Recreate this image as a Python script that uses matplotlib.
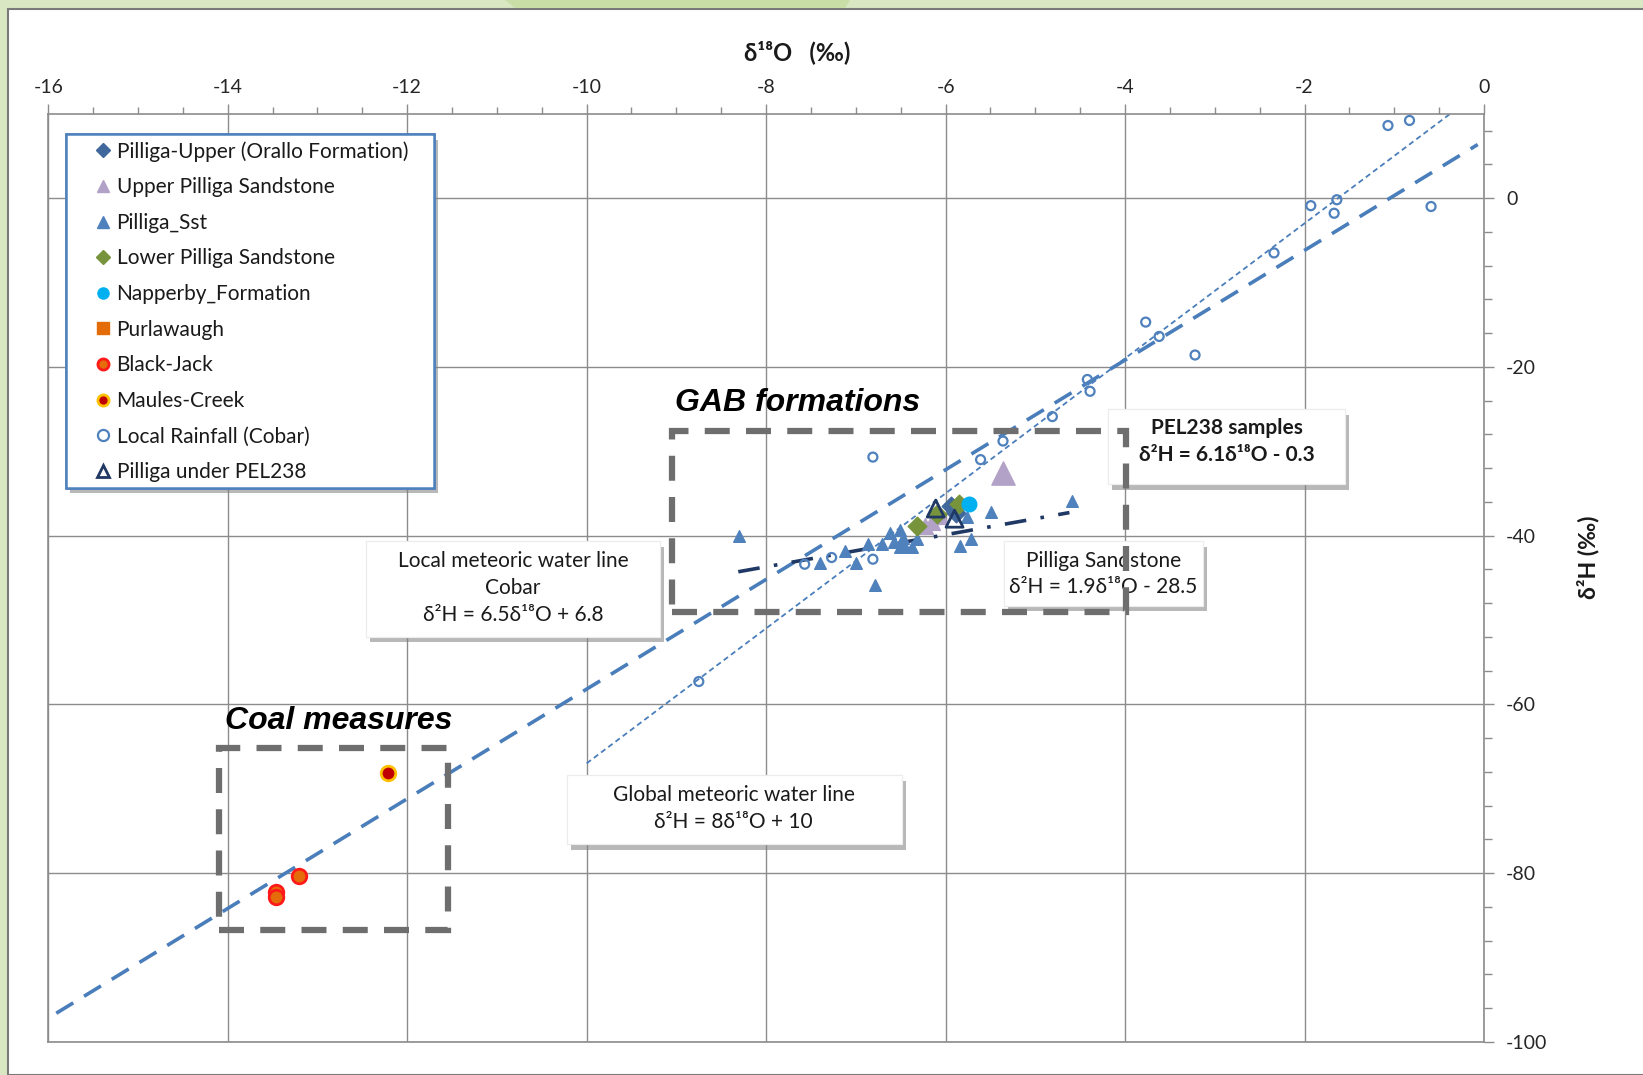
import matplotlib
matplotlib.use("Agg")
import matplotlib.pyplot as plt
import matplotlib.patheffects as pe
from matplotlib.patches import Rectangle, Polygon
from matplotlib.lines import Line2D
import numpy as np

plt.rcParams["font.family"] = ["Lato", "DejaVu Sans"]
plt.rcParams["axes.unicode_minus"] = False

# ---- data (d18O, d2H) ----
pilliga_upper_x = [-5.94, -5.88]
pilliga_upper_y = [-36.5, -37.3]

upper_pilliga_x = [-6.23, -6.15, -6.06, -5.36]
upper_pilliga_y = [-38.9, -38.4, -37.7, -32.6]

pilliga_sst_x = [-8.30, -7.40, -7.12, -7.00, -6.86, -6.79, -6.71, -6.62, -6.51, -6.57,
                 -6.51, -6.45, -6.37, -6.32, -6.48, -5.84, -5.72, -5.76, -5.49, -4.59]
pilliga_sst_y = [-40.1, -43.3, -41.8, -43.2, -41.0, -45.9, -41.0, -39.7, -39.3, -40.8,
                 -41.3, -41.3, -41.3, -40.4, -40.3, -41.2, -40.4, -37.8, -37.2, -35.9]

lower_pilliga_x = [-6.32, -6.10, -5.85]
lower_pilliga_y = [-38.9, -37.4, -36.3]

napperby_x = [-5.74]
napperby_y = [-36.3]

purlawaugh_x = []
purlawaugh_y = []

black_jack_x = [-13.20, -13.46, -13.46]
black_jack_y = [-80.4, -82.3, -82.8]

maules_creek_x = [-12.21]
maules_creek_y = [-68.2]

rain_x = [-1.07, -0.83, -1.93, -1.64, -1.67, -0.59, -2.34, -3.77, -3.62, -3.22,
          -4.42, -4.39, -4.81, -5.36, -5.61, -6.81, -7.57, -7.27, -6.81, -8.75]
rain_y = [8.6, 9.2, -0.9, -0.2, -1.8, -1.0, -6.5, -14.7, -16.4, -18.6,
          -21.5, -22.9, -25.9, -28.8, -31.0, -30.7, -43.4, -42.6, -42.8, -57.3]

pel238_x = [-6.11, -5.90]
pel238_y = [-36.8, -38.0]

# fitted lines: slope, intercept, x range (as drawn in the picture)
lmwl = (6.5, 6.8, -15.91, -0.07)
gmwl = (8.0, 13.0, -10.0, -0.37)
pilliga_fit = (1.9, -28.5, -8.31, -4.62)

# annotation boxes
gab_box = (-9.05, -49.1, -3.99, -27.6)
coal_box = (-14.10, -86.7, -11.55, -65.2)

xticks = np.arange(-16, 1, 2)
yticks = np.arange(-100, 1, 20)

W, H = 1643, 1075
fig = plt.figure(figsize=(W / 100, H / 100), dpi=100)
fig.patch.set_facecolor("#d9e7c3")

# white panel with gray frame, and the darker green tab on top
fig.patches.append(Rectangle((8 / W, 0), 1, 1 - 9 / H, transform=fig.transFigure,
                             facecolor="white", edgecolor="#7a7a7a", linewidth=1.5, zorder=-5))
fig.patches.append(Polygon([(505 / W, 1), (515 / W, 1 - 8 / H), (845 / W, 1 - 8 / H), (850 / W, 1)],
                           closed=True, transform=fig.transFigure,
                           facecolor="#c8dea6", edgecolor="none", zorder=-5))

ax = fig.add_axes([48.2 / W, 1 - 1041.8 / H, (1484 - 48.2) / W, (1041.8 - 113.7) / H])
ax.set_xlim(-16, 0)
ax.set_ylim(-100, 10)

gray = "#8c8c8c"
for s in ax.spines.values():
    s.set_color(gray)
    s.set_linewidth(1.2)

ax.xaxis.tick_top()
ax.yaxis.tick_right()
ax.set_xticks(xticks)
ax.set_xticks(np.arange(-16, 0.01, 0.5), minor=True)
ax.set_yticks(yticks)
ax.set_yticks(np.arange(-100, 10.01, 4), minor=True)
ax.set_xticklabels([f"{v:d}" for v in xticks])
ax.set_yticklabels([f"{v:d}" for v in yticks])
ax.tick_params(axis="both", which="both", direction="out", color=gray, width=1,
               labelsize=14, labelcolor="#262626")
ax.tick_params(axis="x", which="major", length=7, pad=5.5)
ax.tick_params(axis="x", which="minor", length=5)
ax.tick_params(axis="y", which="major", length=7, pad=9)
ax.tick_params(axis="y", which="minor", length=6)
ax.grid(True, which="major", color=gray, linewidth=1)
ax.set_axisbelow(True)

# lines
blue = "#4a7ebb"
for (m, c, x0, x1), kw in [
    (lmwl, dict(color=blue, lw=2.6, linestyle=(0, (5.5, 3.5)))),
    (gmwl, dict(color=blue, lw=1.3, linestyle=(0, (3, 2)))),
    (pilliga_fit, dict(color="#1f3864", lw=2.6, linestyle=(0, (6, 4, 1, 4)))),
]:
    xs = np.array([x0, x1])
    ax.plot(xs, m * xs + c, zorder=2, **kw)

# dashed boxes
for x0, y0, x1, y1 in [gab_box, coal_box]:
    ax.add_patch(Rectangle((x0, y0), x1 - x0, y1 - y0, fill=False, edgecolor="#6e6e6e",
                           linewidth=4.5, linestyle=(0, (4, 2.6)), zorder=7))

# scatter series
series = [
    ("Pilliga-Upper (Orallo Formation)", pilliga_upper_x, pilliga_upper_y,
     dict(marker="D", s=90, c="#41689c", edgecolors="#41689c")),
    ("Upper Pilliga Sandstone", upper_pilliga_x[:-1], upper_pilliga_y[:-1],
     dict(marker="^", s=130, c="#b3a2c7", edgecolors="#b3a2c7")),
    ("Pilliga_Sst", pilliga_sst_x, pilliga_sst_y,
     dict(marker="^", s=70, c="#4f81bd", edgecolors="#4f81bd")),
    ("Lower Pilliga Sandstone", lower_pilliga_x, lower_pilliga_y,
     dict(marker="D", s=90, c="#77933c", edgecolors="#77933c")),
    ("Napperby_Formation", napperby_x, napperby_y,
     dict(marker="o", s=110, c="#00b0f0", edgecolors="#00b0f0")),
    ("Purlawaugh", purlawaugh_x, purlawaugh_y,
     dict(marker="s", s=80, c="#e36c09", edgecolors="#e36c09")),
    ("Black-Jack", black_jack_x, black_jack_y,
     dict(marker="o", s=110, c="#e46c0a", edgecolors="#ff1a1a", linewidths=2)),
    ("Maules-Creek", maules_creek_x, maules_creek_y,
     dict(marker="o", s=110, c="#c00000", edgecolors="#ffc000", linewidths=2)),
    ("Local Rainfall (Cobar)", rain_x, rain_y,
     dict(marker="o", s=42, facecolors="none", edgecolors="#4f81bd", linewidths=1.6)),
    ("Pilliga under PEL238", pel238_x, pel238_y,
     dict(marker="^", s=150, facecolors="none", edgecolors="#1f3864", linewidths=2)),
]
handles = []
for label, xs, ys, kw in series:
    ax.scatter(xs, ys, zorder=4, **kw)
    mk = kw["marker"]
    fc = kw["facecolors"] if "facecolors" in kw else kw["c"]
    handles.append(Line2D([], [], linestyle="none", marker=mk, markersize=8 if mk != "D" else 7,
                          markerfacecolor=fc, markeredgecolor=kw["edgecolors"],
                          markeredgewidth=kw.get("linewidths", 1), label=label))
# the one large Upper Pilliga triangle
ax.scatter(upper_pilliga_x[-1:], upper_pilliga_y[-1:], marker="^", s=280, c="#b3a2c7",
           edgecolors="#b3a2c7", zorder=4)

# legend: own frame with shadow, entries placed inside it
shadow = [pe.withSimplePatchShadow(offset=(3, -4), shadow_rgbFace="#7f7f7f", alpha=0.55)]
frame = Rectangle((0.0124, 0.597), 0.2687 - 0.0124, 0.978 - 0.597, transform=ax.transAxes,
                  facecolor="white", edgecolor="#4f81bd", linewidth=1.8, zorder=9)
frame.set_path_effects(shadow + [pe.Normal()])
ax.add_patch(frame)
leg = ax.legend(handles=handles, loc="upper left", bbox_to_anchor=(0.0331, 0.9706),
                borderaxespad=0, borderpad=0, fontsize=15, frameon=False,
                handlelength=0.7, handletextpad=0.3, labelspacing=0.75)
leg.set_zorder(10)
for t in leg.get_texts():
    t.set_color("#1a1a1a")

# text boxes with shadows
boxes = [
    ((-12.46, -52.0, -9.18, -40.7), -10.82, [-43.0, -46.2, -49.4],
     ["Local meteoric water line", "Cobar", "δ²H = 6.5δ¹⁸O + 6.8"], "normal"),
    ((-4.19, -33.9, -1.55, -25.0), -2.87, [-27.2, -30.4],
     ["PEL238 samples", "δ²H = 6.1δ¹⁸O - 0.3"], "bold"),
    ((-5.35, -48.3, -3.13, -40.7), -4.24, [-43.0, -46.1],
     ["Pilliga Sandstone", "δ²H = 1.9δ¹⁸O - 28.5"], "normal"),
    ((-10.22, -76.6, -6.49, -68.4), -8.36, [-70.8, -74.0],
     ["Global meteoric water line", "δ²H = 8δ¹⁸O + 10"], "normal"),
]
for (x0, y0, x1, y1), cx, ty, lines, wt in boxes:
    r = Rectangle((x0, y0), x1 - x0, y1 - y0, facecolor="white", edgecolor="#ececec",
                  linewidth=0.8, zorder=5)
    r.set_path_effects(shadow + [pe.Normal()])
    ax.add_patch(r)
    for yy, s in zip(ty, lines):
        ax.text(cx, yy, s, ha="center", va="center", fontsize=15, fontweight=wt,
                color="#1a1a1a", zorder=6)

ax.text(-9.02, -24.3, "GAB formations", fontsize=23, fontweight="bold", fontstyle="italic",
        family=["Liberation Sans", "DejaVu Sans"], ha="left", va="center", zorder=6)
ax.text(-14.03, -62.0, "Coal measures", fontsize=23, fontweight="bold", fontstyle="italic",
        family=["Liberation Sans", "DejaVu Sans"], ha="left", va="center", zorder=6)

fig.text(797 / W, 1 - 52 / H, "δ¹⁸O   (‰)", ha="center", va="center", fontsize=17,
         fontweight="bold", color="#1a1a1a")
fig.text(1588 / W, 1 - 557 / H, "δ²H (‰)", ha="center", va="center", fontsize=16.5,
         fontweight="bold", rotation=90, color="#1a1a1a")

fig.savefig("out.png", dpi=100, facecolor=fig.get_facecolor())
